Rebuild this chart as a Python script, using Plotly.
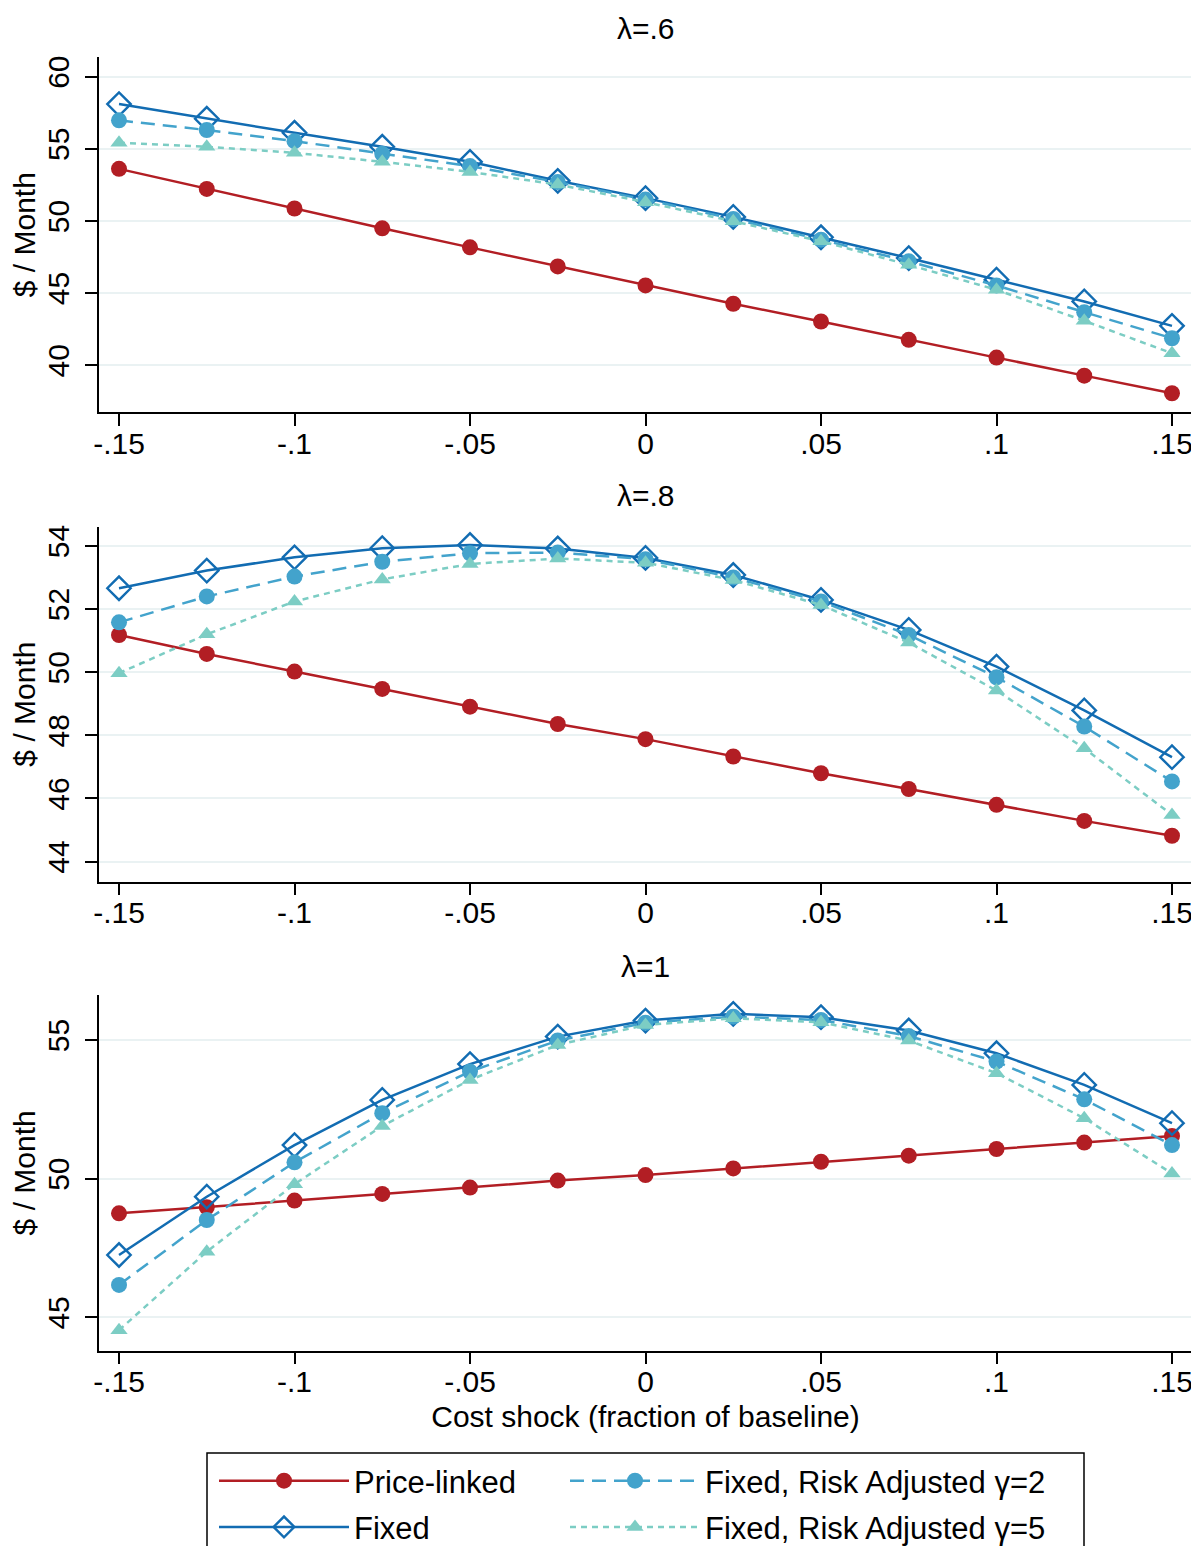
import plotly.graph_objects as go

# ---------------- data ----------------
shock = [-0.15, -0.125, -0.1, -0.075, -0.05, -0.025, 0, 0.025, 0.05, 0.075, 0.1, 0.125, 0.15]
xtick_vals = [-0.15, -0.1, -0.05, 0, 0.05, 0.1, 0.15]
xtick_text = ["-.15", "-.1", "-.05", "0", ".05", ".1", ".15"]

panel_titles = ["λ=.6", "λ=.8", "λ=1"]
series_names = ["Price-linked", "Fixed", "Fixed, Risk Adjusted γ=2", "Fixed, Risk Adjusted γ=5"]

# lambda = .6
l6_price = [53.61, 52.22, 50.86, 49.49, 48.17, 46.85, 45.53, 44.26, 43.03, 41.76, 40.53, 39.28, 38.06]
l6_fixed = [58.10, 57.08, 56.11, 55.14, 54.10, 52.78, 51.58, 50.28, 48.87, 47.43, 45.93, 44.42, 42.73]
l6_g2 = [56.97, 56.30, 55.53, 54.65, 53.80, 52.69, 51.48, 50.14, 48.70, 47.20, 45.53, 43.68, 41.87]
l6_g5 = [55.42, 55.14, 54.72, 54.10, 53.40, 52.52, 51.30, 49.98, 48.59, 46.96, 45.23, 43.08, 40.83]

# lambda = .8
l8_price = [51.18, 50.58, 50.02, 49.47, 48.91, 48.36, 47.88, 47.33, 46.80, 46.30, 45.80, 45.29, 44.82]
l8_fixed = [52.66, 53.22, 53.64, 53.93, 54.03, 53.92, 53.62, 53.08, 52.29, 51.34, 50.18, 48.79, 47.31]
l8_g2 = [51.58, 52.40, 53.03, 53.50, 53.77, 53.79, 53.58, 53.00, 52.24, 51.18, 49.84, 48.28, 46.54]
l8_g5 = [49.97, 51.20, 52.24, 52.94, 53.43, 53.60, 53.47, 52.92, 52.13, 50.94, 49.42, 47.59, 45.48]

# lambda = 1
l1_price = [48.75, 48.97, 49.21, 49.45, 49.68, 49.93, 50.13, 50.37, 50.61, 50.83, 51.07, 51.30, 51.54]
l1_fixed = [47.25, 49.35, 51.21, 52.84, 54.13, 55.12, 55.70, 55.94, 55.82, 55.34, 54.52, 53.38, 52.00]
l1_g2 = [46.17, 48.51, 50.59, 52.36, 53.86, 54.98, 55.62, 55.84, 55.72, 55.14, 54.22, 52.86, 51.21]
l1_g5 = [44.54, 47.37, 49.80, 51.90, 53.56, 54.82, 55.54, 55.78, 55.64, 54.98, 53.80, 52.18, 50.19]

ytick_sets = [[40, 45, 50, 55, 60], [44, 46, 48, 50, 52, 54], [45, 50, 55]]

panels = [
    [l6_price, l6_fixed, l6_g2, l6_g5],
    [l8_price, l8_fixed, l8_g2, l8_g5],
    [l1_price, l1_fixed, l1_g2, l1_g5],
]

# ---------------- styles ----------------
FONT = "Liberation Sans, Arial, Helvetica, sans-serif"
OFF = 8                      # page body margin of the html page
W, H = 1199 - OFF, 1554 - 2 * OFF
styles = [
    dict(color="#B21E24", dash="solid", symbol="circle", size=16, mlw=0, legend="legend", rank=1),
    dict(color="#126CB2", dash="solid", symbol="diamond-open", size=18, mlw=2.4, legend="legend", rank=2),
    dict(color="#43A3CC", dash="14px,8px", symbol="circle", size=16, mlw=0, legend="legend2", rank=3),
    dict(color="#7CCDC4", dash="6px,5px", symbol="triangle-up", size=15, mlw=0, legend="legend2", rank=4),
]

# screen-pixel layout of the plot areas (top, bottom)
px_rows = [(57.3, 412.0), (526.7, 881.5), (995.0, 1350.7)]
yranges = [[36.76, 61.34], [43.37, 54.61], [43.80, 56.62]]
title_shift = [29, 31, 29]
L = 99 - OFF
R = W - (1192 - OFF)
plot_w = W - L - R


def fx(px):  # screen x -> paper x
    return (px - OFF - L) / plot_w


def fy(py):  # screen y -> paper y
    return 1 - (py - OFF) / H


fig = go.Figure()
for p, vals in enumerate(panels):
    xa = "x" if p == 0 else f"x{p+1}"
    ya = "y" if p == 0 else f"y{p+1}"
    for s, (name, st) in enumerate(zip(series_names, styles)):
        fig.add_trace(go.Scatter(
            x=shock, y=vals[s], name=name, mode="lines+markers",
            xaxis=xa, yaxis=ya,
            line=dict(color=st["color"], width=2.5, dash=st["dash"]),
            marker=dict(symbol=st["symbol"], size=st["size"], color=st["color"],
                        line=dict(width=st["mlw"], color=st["color"])),
            showlegend=(p == 0), legend=st["legend"], legendrank=st["rank"],
            legendgroup=f"g{s}",
        ))

layout = dict(
    width=W, height=H,
    margin=dict(l=L, r=R, t=0, b=0, autoexpand=False),
    paper_bgcolor="white", plot_bgcolor="white",
    font=dict(family=FONT, size=30, color="black"),
    annotations=[],
    shapes=[],
)

for p in range(3):
    top, bot = px_rows[p]
    dom = [fy(bot), fy(top)]
    sfx = "" if p == 0 else str(p + 1)
    layout["xaxis" + sfx] = dict(
        domain=[0, 1], anchor="y" + sfx, range=[-0.1557, 0.1557],
        tickvals=xtick_vals, ticktext=xtick_text, showgrid=False, zeroline=False,
        showline=True, linecolor="black", linewidth=1.5,
        ticks="outside", ticklen=12, tickwidth=1.5, tickcolor="black",
        tickfont=dict(size=30), ticklabelstandoff=-8, automargin=False,
    )
    layout["yaxis" + sfx] = dict(
        domain=dom, anchor="x" + sfx, range=yranges[p],
        tickvals=ytick_sets[p], tickangle=-90, showgrid=True,
        gridcolor="#EAF2F3", gridwidth=2, zeroline=False,
        showline=True, linecolor="black", linewidth=1.5,
        ticks="outside", ticklen=12, tickwidth=1.5, tickcolor="black",
        tickfont=dict(size=30), ticklabelstandoff=4, automargin=False,
        title=dict(text="$ / Month", font=dict(size=30), standoff=0),
    )
    layout["annotations"].append(dict(
        text=panel_titles[p], xref="paper", yref="paper", x=0.5, y=dom[1],
        xanchor="center", yanchor="middle", yshift=title_shift[p],
        showarrow=False, font=dict(size=30),
    ))

layout["xaxis3"]["title"] = dict(text="Cost shock (fraction of baseline)", font=dict(size=30), standoff=9)

# legend box
layout["shapes"].append(dict(
    type="rect", xref="paper", yref="paper",
    x0=fx(207), x1=fx(1084), y0=fy(1562), y1=fy(1453),
    line=dict(color="black", width=1.5), fillcolor="rgba(0,0,0,0)",
))

leg_common = dict(orientation="v", xanchor="left", yanchor="top", itemwidth=130,
                  font=dict(size=31), bgcolor="rgba(0,0,0,0)", borderwidth=0,
                  tracegroupgap=3, itemsizing="trace")
layout["legend"] = dict(leg_common, x=fx(214), y=fy(1454))
layout["legend2"] = dict(leg_common, x=fx(565), y=fy(1454))

fig.update_layout(**layout)
fig.write_html("out.html")
